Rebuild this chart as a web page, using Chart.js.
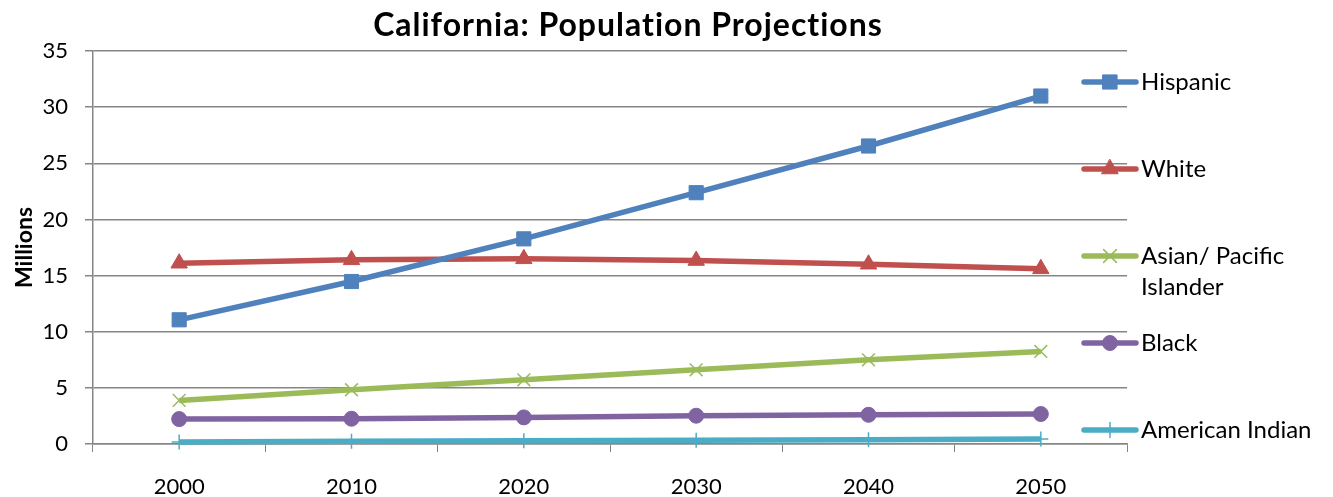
<!DOCTYPE html>
<html>
<head>
<meta charset="utf-8">
<script src="https://cdn.jsdelivr.net/npm/chart.js@4/dist/chart.umd.min.js"></script>
<style>
    body { margin: 0; background: #fff; }
</style>
</head>
<body>
<canvas id="popChart" width="1333" height="497"></canvas>
<script>
const years = ["2000", "2010", "2020", "2030", "2040", "2050"];
const hispanic = [11.06, 14.47, 18.27, 22.38, 26.54, 30.99];
const white = [16.1, 16.4, 16.49, 16.34, 16.01, 15.6];
const asianPacific = [3.88, 4.83, 5.72, 6.61, 7.5, 8.24];
const black = [2.22, 2.25, 2.37, 2.52, 2.6, 2.67];
const americanIndian = [0.18, 0.25, 0.29, 0.34, 0.38, 0.44];

const FONT = "Lato, 'Open Sans', sans-serif";
const GRID = "#868686";

function series(label, data, color, style, radius, bw) {
    return {
        label: label,
        data: data,
        borderColor: color,
        backgroundColor: color,
        borderWidth: 5.5,
        tension: 0,
        pointStyle: style,
        pointRadius: radius,
        pointBorderWidth: bw,
        pointBorderColor: color,
        pointBackgroundColor: color,
        clip: false,
    };
}

// legend + title drawn by hand to match the excel layout
const sideLegend = {
    id: "sideLegend",
    afterDraw(chart) {
        const ctx = chart.ctx;
        ctx.save();
        ctx.fillStyle = "#000";
        ctx.font = "bold 32px " + FONT;
        ctx.letterSpacing = "1px";
        ctx.textAlign = "center";
        ctx.textBaseline = "middle";
        ctx.fillText("California: Population Projections", 628, 26);
        ctx.letterSpacing = "0px";

        const rows = [82, 169, 256, 343, 430];
        ctx.font = "24px " + FONT;
        ctx.textAlign = "left";
        chart.data.datasets.forEach((ds, i) => {
            const y = rows[i];
            ctx.strokeStyle = ds.borderColor;
            ctx.lineWidth = 5.5;
            ctx.lineCap = "round";
            ctx.beginPath();
            ctx.moveTo(1084, y);
            ctx.lineTo(1136, y);
            ctx.stroke();
            ctx.fillStyle = ds.backgroundColor;
            ctx.lineWidth = ds.pointBorderWidth;
            Chart.helpers.drawPoint(ctx, {
                pointStyle: ds.pointStyle,
                radius: ds.pointRadius,
                rotation: 0,
                borderWidth: ds.pointBorderWidth,
            }, 1110, y);
            ctx.fillStyle = "#000";
            const lines = ds.label.split("\n");
            lines.forEach((t, j) => ctx.fillText(t, 1141, y + j * 31));
        });
        ctx.restore();
    },
};

new Chart(document.getElementById("popChart"), {
    type: "line",
    data: {
        labels: years,
        datasets: [
            series("Hispanic", hispanic, "#4F81BD", "rect", 10, 1),
            series("White", white, "#C0504D", "triangle", 9.5, 1),
            series("Asian/ Pacific\nIslander", asianPacific, "#9BBB59", "crossRot", 9, 1.5),
            series("Black", black, "#8064A2", "circle", 7.5, 1),
            series("American Indian", americanIndian, "#4BACC6", "cross", 7.5, 1.5),
        ],
    },
    options: {
        responsive: false,
        animation: false,
        layout: { padding: { top: 51, right: 206, left: 0, bottom: 0 } },
        plugins: {
            legend: { display: false },
            title: { display: false },
            tooltip: { enabled: false },
        },
        scales: {
            x: {
                offset: true,
                grid: {
                    offset: true,
                    drawOnChartArea: false,
                    drawTicks: true,
                    tickLength: 8,
                    color: GRID,
                },
                border: { color: GRID, width: 1.5 },
                ticks: { color: "#000", font: { family: FONT, size: 22 }, padding: 22, maxRotation: 0 },
                afterFit(scale) { scale.height = 53; },
            },
            y: {
                min: 0,
                max: 35,
                ticks: { stepSize: 5, color: "#000", font: { family: FONT, size: 22 }, padding: 17 },
                grid: { color: GRID, lineWidth: 1.5, tickLength: 8 },
                border: { color: GRID, width: 1.5 },
                title: {
                    display: true,
                    text: "Millions",
                    color: "#000",
                    font: { family: FONT, size: 23, weight: "bold" },
                    padding: { top: 11, bottom: 0 },
                },
                afterFit(scale) { scale.width = 93; },
            },
        },
    },
    plugins: [sideLegend],
});
</script>
</body>
</html>
